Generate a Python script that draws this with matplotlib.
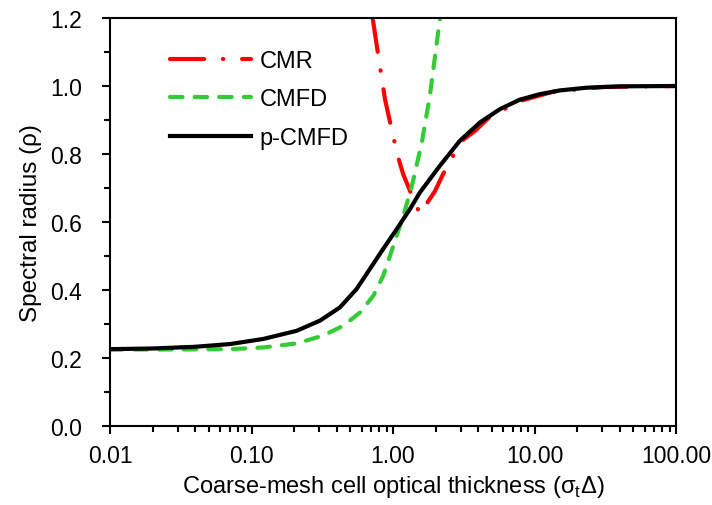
import matplotlib
matplotlib.use("Agg")
import matplotlib.pyplot as plt
from matplotlib.ticker import FixedLocator, LogLocator, NullFormatter, MultipleLocator

plt.rcParams['font.family'] = ['Liberation Sans', 'DejaVu Sans']

# p-CMFD
x_p = [0.01, 0.02, 0.04, 0.0705, 0.121, 0.2085, 0.305, 0.422, 0.553, 0.687, 0.853, 1.062,
       1.318, 1.55, 2.15, 2.97, 4.12, 5.70, 7.90, 10.9, 15.1, 23.4, 40, 100]
y_p = [0.226, 0.228, 0.233, 0.241, 0.256, 0.280, 0.310, 0.349, 0.403, 0.462, 0.521, 0.579,
       0.638, 0.687, 0.766, 0.839, 0.893, 0.932, 0.960, 0.976, 0.987, 0.995, 0.999, 1.0]
# CMFD
x_c = [0.01, 0.03, 0.0705, 0.121, 0.2085, 0.321, 0.446, 0.585, 0.726, 0.853, 0.953, 1.062,
       1.183, 1.318, 1.38, 1.6, 1.82, 2.15]
y_c = [0.225, 0.225, 0.226, 0.231, 0.243, 0.266, 0.295, 0.334, 0.383, 0.442, 0.501, 0.560,
       0.618, 0.687, 0.717, 0.835, 0.97, 1.2]
# CMR
x_r = [0.718, 0.78, 0.877, 0.953, 1.08, 1.18, 1.32, 1.55, 1.98, 2.26, 2.66, 2.97, 3.8, 4.85,
       7.9, 13.5, 30, 100]
y_r = [1.2, 1.10, 0.962, 0.894, 0.794, 0.741, 0.691, 0.624, 0.691, 0.741, 0.795, 0.835, 0.868,
       0.91, 0.956, 0.983, 0.997, 1.0]

xtick_vals = [0.01, 0.1, 1, 10, 100]
xtick_labels = ["0.01", "0.10", "1.00", "10.00", "100.00"]

fig = plt.figure(figsize=(7.12, 5.06), dpi=100)
ax = fig.add_axes([110/712, 1-427/506, (676-110)/712, (427-19)/506])

ax.plot(x_r, y_r, color='#ff0000', lw=3, dashes=(8.2, 4.5, 0.1, 4.5),
        dash_capstyle='round', label='CMR')
ax.plot(x_c, y_c, color='#33cc33', lw=3, dashes=(3.0, 2.9),
        dash_capstyle='round', label='CMFD')
ax.plot(x_p, y_p, color='black', lw=3, label='p-CMFD')

ax.set_xscale('log')
ax.set_xlim(0.01, 100)
ax.set_ylim(0, 1.2)
ax.xaxis.set_major_locator(FixedLocator(xtick_vals))
ax.set_xticklabels(xtick_labels)
ax.xaxis.set_minor_locator(LogLocator(base=10, subs=range(2, 10)))
ax.xaxis.set_minor_formatter(NullFormatter())
ax.yaxis.set_major_locator(MultipleLocator(0.2))
ax.yaxis.set_minor_locator(MultipleLocator(0.1))
ax.yaxis.set_major_formatter(plt.FuncFormatter(lambda v, p: f"{v:.1f}"))

for s in ax.spines.values():
    s.set_linewidth(1.5)
ax.tick_params(which='major', direction='out', length=6, width=1.5, labelsize=16.5)
ax.tick_params(which='minor', direction='out', length=4, width=1.5)
ax.tick_params(axis='y', which='major', pad=14)
ax.tick_params(axis='x', which='major', pad=7)

ax.set_xlabel('Coarse-mesh cell optical thickness (σ$_\\mathregular{t}$Δ)', fontsize=17, labelpad=4)
ax.set_ylabel('Spectral radius (ρ)', fontsize=17.5, labelpad=6)

ax.legend(loc='upper left', bbox_to_anchor=(0.106, 0.922), frameon=False, fontsize=17,
          handlelength=3.45, handletextpad=0.35, labelspacing=0.7,
          borderpad=0, borderaxespad=0)

fig.savefig('out.png', dpi=100)
